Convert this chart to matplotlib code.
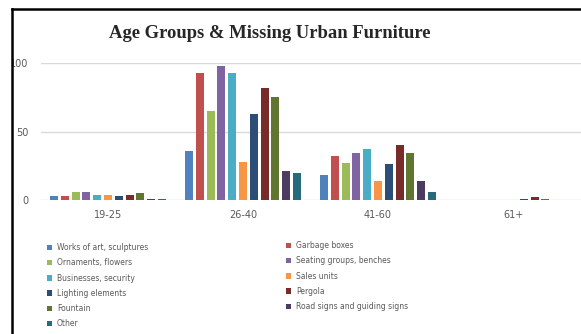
import matplotlib
matplotlib.use("Agg")
import matplotlib.pyplot as plt
import numpy as np
from matplotlib.patches import Patch, Rectangle
from matplotlib.lines import Line2D

categories = ["19-25", "26-40", "41-60", "61+"]
series_names = [
    "Works of art, sculptures",
    "Garbage boxes",
    "Ornaments, flowers",
    "Seating groups, benches",
    "Businesses, security",
    "Sales units",
    "Lighting elements",
    "Pergola",
    "Fountain",
    "Road signs and guiding signs",
    "Other",
]
colors = ["#4F81BD", "#C0504D", "#9BBB59", "#8064A2", "#4BACC6", "#F79646",
          "#2C4D75", "#772C2A", "#5F7530", "#4D3B62", "#276A7C"]

# values per series: [19-25, 26-40, 41-60, 61+]
works_of_art = [3, 36, 18, 0]
garbage_boxes = [3, 93, 32, 0]
ornaments = [6, 65, 27, 0.3]
seating = [6, 98, 34, 0.3]
businesses = [4, 93, 37, 0.3]
sales_units = [4, 28, 14, 0.3]
lighting = [3, 63, 26, 0.6]
pergola = [4, 82, 40, 2]
fountain = [5, 75, 34, 0.5]
road_signs = [1, 21, 14, 0]
other = [1, 20, 6, 0]

values = [works_of_art, garbage_boxes, ornaments, seating, businesses,
          sales_units, lighting, pergola, fountain, road_signs, other]
yticks = [0, 50, 100]
ytick_labels = ["0", "50", "100"]

W, H = 581, 334
fig = plt.figure(figsize=(W / 100, H / 100), dpi=100)
fig.patch.set_facecolor("white")

ax = fig.add_axes([40.5 / W, 1 - 200 / H, 540 / W, 137 / H])
x = np.arange(len(categories))
n = len(values)
slot = 0.08
bw = slot * 0.74
for i, (vals, c) in enumerate(zip(values, colors)):
    offs = (i - (n - 1) / 2) * slot
    ax.bar(x + offs, vals, width=bw, color=c, zorder=3, linewidth=0)

ax.set_xlim(-0.5, 3.5)
ax.set_ylim(0, 100)
ax.set_yticks(yticks)
ax.set_yticklabels(ytick_labels)
ax.set_xticks(x)
ax.set_xticklabels(categories)
ax.grid(axis="y", color="#D9D9D9", linewidth=1, zorder=0)
ax.set_axisbelow(True)
for s in ax.spines.values():
    s.set_visible(False)
ax.tick_params(axis="both", length=0, labelsize=7, colors="#595959")
ax.tick_params(axis="y", pad=8.6)
ax.tick_params(axis="x", pad=7)

fig.text(270 / W, 1 - 34 / H, "Age Groups & Missing Urban Furniture",
         ha="center", va="center", fontsize=13.4, fontweight="bold",
         family="Liberation Serif", color="#262626")

handles = [Patch(facecolor=c, edgecolor="none") for c in colors]
left_idx = [0, 2, 4, 6, 8, 10]
right_idx = [1, 3, 5, 7, 9]
common = dict(frameon=False, fontsize=5.5, labelcolor="#595959",
              handlelength=0.7, handleheight=0.7, handletextpad=0.6,
              labelspacing=0.82, borderpad=0, borderaxespad=0, loc="upper left")
leg1 = fig.legend([handles[i] for i in left_idx], [series_names[i] for i in left_idx],
                  bbox_to_anchor=(47 / W, 1 - 243 / H), **common)
leg2 = fig.legend([handles[i] for i in right_idx], [series_names[i] for i in right_idx],
                  bbox_to_anchor=(286 / W, 1 - 241 / H), **common)

# white margin outside the cropped chart frame, then the frame border
fig.add_artist(Rectangle((0, 0), 11.5 / W, 1, facecolor="white", edgecolor="none",
                         transform=fig.transFigure, zorder=10))
fig.add_artist(Rectangle((0, 1 - 8.5 / H), 1, 8.5 / H, facecolor="white",
                         edgecolor="none", transform=fig.transFigure, zorder=10))
fig.add_artist(Line2D([11.5 / W, 11.5 / W], [0, 1 - 8.5 / H], color="black",
                      linewidth=1.8, transform=fig.transFigure, zorder=11))
fig.add_artist(Line2D([11.5 / W, 1], [1 - 8.5 / H, 1 - 8.5 / H], color="black",
                      linewidth=1.8, transform=fig.transFigure, zorder=11))

fig.savefig("out.png", dpi=100)
